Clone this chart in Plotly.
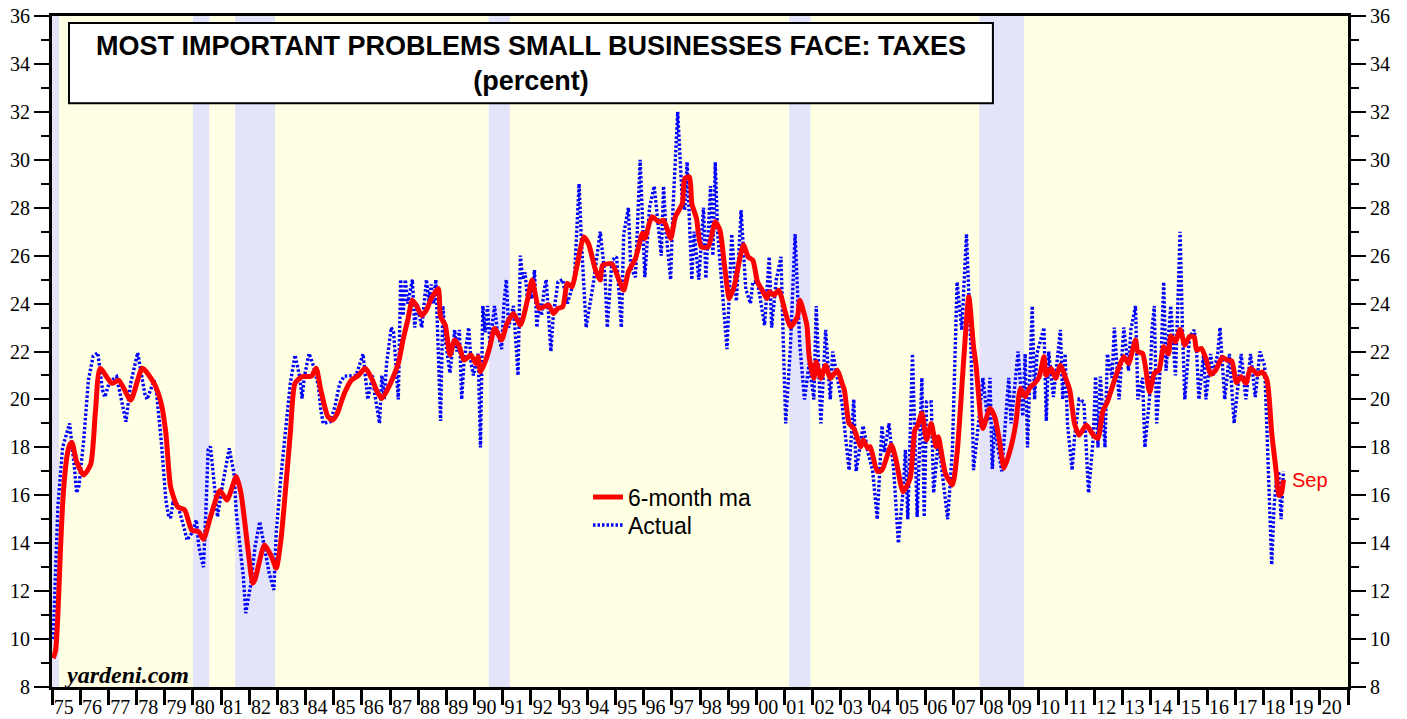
import plotly.graph_objects as go

# 6-month moving average
ma_dates = [
    "1975-01", "1975-02", "1975-03", "1975-04", "1975-05", "1975-06", "1975-07", "1975-08", "1975-09", "1975-11",
    "1976-02", "1976-05", "1976-07", "1976-09", "1977-02", "1977-05", "1977-10", "1978-03", "1978-08", "1978-11",
    "1979-01", "1979-03", "1979-06", "1979-09", "1979-12", "1980-03", "1980-05", "1980-08", "1980-12", "1981-03",
    "1981-07", "1981-09", "1981-12", "1982-02", "1982-03", "1982-07", "1982-10", "1982-12", "1983-02", "1983-06",
    "1983-08", "1983-11", "1984-03", "1984-05", "1984-07", "1984-10", "1984-12", "1985-02", "1985-05", "1985-08",
    "1985-11", "1986-02", "1986-05", "1986-07", "1986-09", "1986-12", "1987-04", "1987-06", "1987-08", "1987-10",
    "1987-12", "1988-02", "1988-04", "1988-06", "1988-09", "1988-10", "1988-12", "1989-02", "1989-04", "1989-06",
    "1989-08", "1989-11", "1990-01", "1990-02", "1990-03", "1990-05", "1990-07", "1990-09", "1990-12", "1991-02",
    "1991-03", "1991-05", "1991-08", "1991-11", "1992-01", "1992-04", "1992-08", "1992-10", "1992-12", "1993-02",
    "1993-04", "1993-06", "1993-08", "1993-11", "1994-01", "1994-04", "1994-06", "1994-07", "1994-11", "1995-02",
    "1995-04", "1995-06", "1995-09", "1995-12", "1996-01", "1996-04", "1996-07", "1996-09", "1996-12", "1997-02",
    "1997-05", "1997-06", "1997-08", "1997-09", "1997-11", "1998-01", "1998-04", "1998-07", "1998-09", "1998-11",
    "1999-01", "1999-03", "1999-07", "1999-09", "1999-11", "2000-01", "2000-03", "2000-05", "2000-06", "2000-08",
    "2000-10", "2001-01", "2001-03", "2001-06", "2001-07", "2001-10", "2001-11", "2002-01", "2002-02", "2002-04",
    "2002-06", "2002-08", "2002-11", "2003-01", "2003-02", "2003-04", "2003-06", "2003-09", "2003-10", "2003-12",
    "2004-01", "2004-04", "2004-06", "2004-10", "2004-12", "2005-03", "2005-06", "2005-08", "2005-09", "2005-11",
    "2006-01", "2006-03", "2006-05", "2006-06", "2006-09", "2006-12", "2007-02", "2007-05", "2007-07", "2007-09",
    "2007-10", "2007-12", "2008-01", "2008-04", "2008-06", "2008-08", "2008-10", "2009-01", "2009-03", "2009-05",
    "2009-07", "2009-09", "2009-11", "2010-01", "2010-03", "2010-04", "2010-06", "2010-08", "2010-10", "2010-12",
    "2011-02", "2011-04", "2011-06", "2011-09", "2011-12", "2012-02", "2012-04", "2012-06", "2012-09", "2012-11",
    "2013-01", "2013-03", "2013-06", "2013-07", "2013-09", "2013-12", "2014-02", "2014-04", "2014-06", "2014-08",
    "2014-09", "2014-11", "2015-01", "2015-03", "2015-05", "2015-07", "2015-08", "2015-10", "2015-12", "2016-02",
    "2016-04", "2016-07", "2016-09", "2016-11", "2017-01", "2017-03", "2017-05", "2017-07", "2017-10", "2017-12",
    "2018-02", "2018-03", "2018-04", "2018-05", "2018-06", "2018-07", "2018-08", "2018-09",
]
ma_vals = [
    9.2, 9.5, 11.0, 13.5, 15.6, 16.9, 17.7, 18.1, 18.2, 17.4,
    16.85, 17.3, 19.5, 21.3, 20.67, 20.8, 19.97, 21.3, 20.67, 19.84,
    18.6, 16.36, 15.52, 15.39, 14.55, 14.48, 14.17, 15.1, 16.2, 15.8,
    16.78, 16.08, 13.72, 12.33, 12.5, 13.93, 13.44, 12.96, 14.13, 18.59,
    20.67, 20.95, 20.97, 21.3, 20.39, 19.28, 19.14, 19.42, 20.25, 20.8,
    21.0, 21.3, 20.8, 20.32, 20.04, 20.53, 21.5, 22.48, 23.3, 24.14,
    23.86, 23.5, 23.73, 24.2, 24.63, 23.45, 23.1, 21.85, 22.48, 22.2,
    21.64, 21.85, 21.5, 21.78, 21.15, 21.57, 22.2, 22.96, 22.48, 23.1,
    23.3, 23.59, 23.1, 24.14, 24.98, 23.8, 23.94, 23.59, 23.8, 23.86,
    24.84, 24.7, 25.53, 26.78, 26.5, 25.4, 24.98, 25.6, 25.65, 24.98,
    24.56, 25.32, 25.88, 26.93, 26.72, 27.62, 27.41, 27.48, 26.72, 27.62,
    28.18, 29.22, 29.29, 28.18, 27.55, 26.37, 26.37, 27.41, 27.06, 25.53,
    24.21, 24.7, 26.44, 25.95, 25.81, 24.9, 24.56, 24.21, 24.49, 24.35,
    24.56, 23.59, 23.03, 23.45, 24.14, 23.1, 21.78, 20.88, 21.57, 20.88,
    21.43, 20.88, 21.22, 20.67, 20.39, 19.0, 18.79, 18.03, 18.31, 17.96,
    18.03, 17.0, 17.05, 18.1, 17.47, 16.15, 16.71, 18.72, 18.86, 19.42,
    18.31, 19.0, 18.03, 18.44, 16.92, 16.43, 17.75, 21.92, 24.28, 22.2,
    21.5, 19.28, 18.79, 19.63, 19.28, 18.31, 17.13, 18.03, 19.0, 20.46,
    20.11, 20.5, 20.67, 20.95, 21.78, 21.0, 21.3, 20.88, 21.43, 20.95,
    20.39, 19.0, 18.51, 18.93, 18.51, 18.38, 19.49, 19.9, 20.8, 21.36,
    21.78, 21.5, 22.48, 21.99, 21.92, 20.3, 21.09, 21.22, 22.2, 21.9,
    22.65, 22.4, 22.92, 22.27, 22.63, 22.61, 22.06, 22.13, 21.7, 21.05,
    21.2, 21.75, 21.64, 21.6, 20.7, 20.95, 20.67, 21.3, 21.05, 21.15,
    20.81, 19.97, 18.6, 17.75, 16.9, 16.0, 16.05, 16.65,
]

# Actual survey readings (turning points)
act_dates = [
    "1975-01", "1975-02", "1975-03", "1975-05", "1975-07", "1975-08", "1975-10", "1975-11", "1975-12", "1976-02",
    "1976-04", "1976-06", "1976-08", "1976-10", "1976-11", "1977-01", "1977-04", "1977-06", "1977-08", "1977-10",
    "1977-12", "1978-01", "1978-04", "1978-05", "1978-08", "1978-09", "1978-11", "1978-12", "1979-01", "1979-02",
    "1979-03", "1979-04", "1979-06", "1979-09", "1979-10", "1979-12", "1980-02", "1980-03", "1980-05", "1980-06",
    "1980-07", "1980-08", "1980-10", "1980-11", "1981-01", "1981-03", "1981-04", "1981-06", "1981-07", "1981-10",
    "1981-11", "1982-01", "1982-03", "1982-05", "1982-07", "1982-09", "1982-11", "1982-12", "1983-02", "1983-04",
    "1983-06", "1983-08", "1983-10", "1983-11", "1983-12", "1984-02", "1984-04", "1984-06", "1984-07", "1984-08",
    "1984-11", "1985-01", "1985-03", "1985-05", "1985-10", "1986-01", "1986-03", "1986-05", "1986-06", "1986-08",
    "1986-09", "1986-10", "1986-11", "1987-01", "1987-02", "1987-04", "1987-05", "1987-06", "1987-07", "1987-08",
    "1987-10", "1987-11", "1987-12", "1988-02", "1988-04", "1988-05", "1988-06", "1988-07", "1988-08", "1988-10",
    "1988-11", "1988-12", "1989-02", "1989-04", "1989-05", "1989-06", "1989-07", "1989-08", "1989-10", "1989-11",
    "1989-12", "1990-01", "1990-02", "1990-03", "1990-04", "1990-05", "1990-06", "1990-07", "1990-08", "1990-09",
    "1990-10", "1990-12", "1991-01", "1991-02", "1991-03", "1991-05", "1991-06", "1991-07", "1991-08", "1991-09",
    "1991-10", "1991-11", "1991-12", "1992-01", "1992-02", "1992-03", "1992-04", "1992-05", "1992-06", "1992-07",
    "1992-08", "1992-09", "1992-10", "1992-12", "1993-02", "1993-04", "1993-07", "1993-09", "1993-10", "1993-12",
    "1994-03", "1994-06", "1994-08", "1994-09", "1994-11", "1995-01", "1995-03", "1995-04", "1995-06", "1995-07",
    "1995-09", "1995-11", "1996-01", "1996-03", "1996-05", "1996-06", "1996-08", "1996-09", "1996-10", "1996-12",
    "1997-01", "1997-03", "1997-05", "1997-06", "1997-07", "1997-09", "1997-10", "1997-12", "1998-02", "1998-03",
    "1998-05", "1998-06", "1998-07", "1998-08", "1998-10", "1998-12", "1999-02", "1999-04", "1999-06", "1999-08",
    "1999-10", "1999-11", "2000-01", "2000-04", "2000-06", "2000-07", "2000-09", "2000-11", "2000-12", "2001-01",
    "2001-03", "2001-05", "2001-07", "2001-09", "2001-11", "2002-01", "2002-02", "2002-04", "2002-06", "2002-08",
    "2002-09", "2002-11", "2003-01", "2003-04", "2003-06", "2003-07", "2003-10", "2003-12", "2004-02", "2004-04",
    "2004-06", "2004-07", "2004-09", "2004-11", "2005-01", "2005-03", "2005-04", "2005-05", "2005-07", "2005-09",
    "2005-11", "2005-12", "2006-01", "2006-03", "2006-04", "2006-06", "2006-08", "2006-10", "2006-12", "2007-01",
    "2007-02", "2007-04", "2007-06", "2007-08", "2007-09", "2007-11", "2008-01", "2008-03", "2008-04", "2008-05",
    "2008-06", "2008-09", "2008-12", "2009-01", "2009-04", "2009-06", "2009-07", "2009-08", "2009-10", "2009-11",
    "2009-12", "2010-03", "2010-04", "2010-05", "2010-07", "2010-10", "2010-11", "2010-12", "2011-01", "2011-03",
    "2011-04", "2011-06", "2011-08", "2011-10", "2011-12", "2012-01", "2012-02", "2012-03", "2012-05", "2012-06",
    "2012-08", "2012-09", "2012-11", "2013-01", "2013-03", "2013-04", "2013-06", "2013-07", "2013-09", "2013-10",
    "2013-12", "2014-01", "2014-02", "2014-03", "2014-05", "2014-06", "2014-07", "2014-09", "2014-11", "2014-12",
    "2015-01", "2015-02", "2015-03", "2015-05", "2015-07", "2015-08", "2015-09", "2015-11", "2015-12", "2016-02",
    "2016-03", "2016-05", "2016-06", "2016-08", "2016-10", "2016-12", "2017-03", "2017-05", "2017-07", "2017-09",
    "2017-11", "2018-01", "2018-02", "2018-04", "2018-05", "2018-06", "2018-07", "2018-08", "2018-09",
]
act_vals = [
    10.0, 12.5, 15.5, 18.0, 18.6, 19.0, 17.2, 16.1, 16.4, 18.3,
    20.8, 21.8, 21.95, 20.4, 20.1, 20.74, 20.95, 19.97, 19.07, 20.67,
    21.5, 21.95, 20.25, 20.0, 20.8, 20.3, 18.3, 17.0, 15.8, 15.2,
    15.05, 15.67, 15.6, 14.55, 14.13, 14.42, 14.97, 13.86, 13.0, 15.25,
    17.9, 18.03, 16.08, 15.1, 16.36, 17.33, 17.96, 16.92, 15.25, 12.6,
    11.08, 12.19, 13.86, 14.9, 13.72, 12.75, 12.05, 14.42, 16.78, 18.86,
    20.67, 21.85, 20.95, 20.04, 20.95, 21.92, 21.36, 20.53, 19.56, 19.0,
    19.07, 19.7, 20.67, 20.97, 21.0, 21.9, 20.0, 21.0, 20.2, 19.0,
    21.0, 20.0, 21.5, 23.0, 22.8, 20.0, 25.0, 23.5, 25.0, 24.0,
    25.0, 23.0, 24.0, 23.0, 25.0, 24.1, 24.8, 24.0, 25.0, 19.1,
    23.9, 22.5, 21.1, 22.9, 22.0, 22.9, 20.0, 21.6, 23.0, 21.5,
    21.0, 21.5, 21.9, 18.0, 23.9, 22.8, 23.9, 22.3, 23.0, 23.9,
    23.0, 22.1, 24.0, 25.0, 23.0, 23.9, 22.5, 21.0, 26.0, 25.0,
    25.3, 24.2, 24.5, 24.2, 25.4, 23.0, 24.0, 23.5, 24.5, 25.0,
    23.5, 22.0, 23.5, 24.9, 25.0, 24.0, 25.0, 29.0, 26.6, 23.0,
    24.8, 27.0, 25.2, 23.0, 25.8, 25.95, 23.0, 26.9, 28.0, 25.5,
    25.1, 30.0, 25.1, 28.0, 28.9, 27.9, 26.0, 28.9, 27.0, 25.0,
    28.0, 32.0, 28.2, 27.9, 29.9, 25.0, 27.0, 25.0, 28.0, 25.05,
    28.9, 26.0, 29.9, 27.0, 24.6, 22.1, 26.9, 24.1, 27.9, 24.6,
    24.0, 24.9, 24.9, 23.1, 25.95, 23.0, 25.0, 25.95, 22.3, 19.0,
    22.2, 26.9, 22.3, 20.0, 21.5, 20.0, 23.9, 19.0, 22.9, 20.0,
    22.0, 20.8, 19.8, 17.05, 20.0, 17.0, 18.9, 17.8, 17.05, 15.0,
    18.9, 17.8, 19.0, 17.05, 14.0, 16.2, 17.9, 15.0, 21.9, 15.1,
    20.9, 15.1, 19.9, 19.9, 16.1, 18.3, 16.6, 15.0, 17.9, 21.6,
    24.9, 22.9, 26.9, 21.9, 17.05, 18.9, 20.9, 19.1, 20.9, 17.1,
    18.9, 17.0, 20.9, 19.0, 22.0, 19.3, 21.9, 18.0, 23.9, 20.0,
    21.9, 23.0, 19.1, 22.0, 20.1, 22.9, 20.0, 21.9, 19.0, 17.05,
    18.4, 20.0, 19.9, 16.1, 18.4, 20.95, 18.0, 20.95, 18.0, 21.9,
    20.9, 23.0, 20.0, 23.0, 21.2, 22.9, 23.9, 20.0, 20.9, 18.0,
    20.1, 22.9, 23.9, 19.0, 22.0, 24.9, 21.2, 23.9, 21.0, 23.9,
    27.0, 22.9, 20.0, 22.6, 22.9, 22.0, 20.0, 21.9, 20.0, 21.9,
    21.0, 21.9, 23.0, 20.0, 21.9, 19.0, 21.9, 20.0, 21.9, 20.1,
    22.0, 21.4, 18.6, 13.1, 15.5, 16.6, 17.0, 15.0, 17.0,
]

# NBER recessions (shaded)
rec_start = ["1973-11", "1980-01", "1981-07", "1990-07", "2001-03", "2007-12"]
rec_end = ["1975-03", "1980-07", "1982-11", "1991-03", "2001-11", "2009-06"]

years = list(range(1975, 2021))
year_labels = [str(y)[-2:] for y in years]


def mid_month(s):
    y, m = s.split("-")
    return int(y) + (int(m) - 0.5) / 12


def month_start(s):
    y, m = s.split("-")
    return int(y) + (int(m) - 1) / 12


def month_end(s):
    y, m = s.split("-")
    return int(y) + int(m) / 12


ma_x = [mid_month(d) for d in ma_dates]
act_x = [mid_month(d) for d in act_dates]

fig = go.Figure()

fig.add_trace(go.Scatter(
    x=act_x, y=act_vals, mode="lines", name="Actual", legend="legend2",
    line=dict(color="#0000FF", width=3.4, dash="2.5px,2px"),
))
# MA on the overlaying right axis so it sits on top and the right axis gets drawn
fig.add_trace(go.Scatter(
    x=ma_x, y=ma_vals, mode="lines", name="6-month ma", yaxis="y2", legend="legend",
    line=dict(color="#FF0000", width=5, shape="spline", smoothing=0.6),
))

shapes = []
for s, e in zip(rec_start, rec_end):
    shapes.append(dict(
        type="rect", xref="x", yref="paper",
        x0=max(month_start(s), 1975), x1=month_end(e), y0=0, y1=1,
        fillcolor="#E3E3FA", line=dict(width=0), layer="below",
    ))

# title box
shapes.append(dict(
    type="rect", xref="paper", yref="paper",
    x0=0.0131, x1=0.726, y0=0.870, y1=0.9896,
    fillcolor="white", line=dict(color="black", width=2), layer="above",
))

annotations = [
    dict(text="<b>MOST IMPORTANT PROBLEMS SMALL BUSINESSES FACE: TAXES<br>(percent)</b>",
         xref="paper", yref="paper", x=0.3696, y=0.929, yanchor="middle", showarrow=False,
         font=dict(family="Liberation Sans, Arial", size=27, color="black")),
    dict(text="<b><i>yardeni.com</i></b>",
         xref="paper", yref="paper", x=0.008, y=0.018, xanchor="left", yanchor="middle",
         showarrow=False,
         font=dict(family="Liberation Serif, Times New Roman", size=24, color="black")),
    dict(text="Sep", x=ma_x[-1], y=ma_vals[-1], xref="x", yref="y",
         xanchor="left", yanchor="middle", xshift=7, showarrow=False,
         font=dict(family="Liberation Sans, Arial", size=20, color="#FF0000")),
]

tick_font = dict(family="Liberation Serif, Times New Roman", size=20, color="black")

yaxis_common = dict(
    range=[8, 36], tick0=8, dtick=2, ticks="outside", ticklen=15, tickwidth=2,
    tickcolor="black", showgrid=False, zeroline=False, showline=True,
    linecolor="black", linewidth=3, tickfont=tick_font, automargin=False,
    ticklabeloverflow="allow",
    minor=dict(dtick=1, ticks="outside", ticklen=8, tickwidth=2, tickcolor="black", showgrid=False),
)

legend_common = dict(
    xanchor="left", yanchor="middle", bgcolor="rgba(0,0,0,0)", borderwidth=0,
    font=dict(family="Liberation Sans, Arial", size=23, color="black"),
)

fig.update_layout(
    width=1407, height=719,
    margin=dict(l=52, r=59, t=16, b=32),
    paper_bgcolor="white",
    plot_bgcolor="#FFFFE4",
    shapes=shapes,
    annotations=annotations,
    xaxis=dict(
        range=[1975, 2021], tickmode="array",
        tickvals=[y + 0.42 for y in years], ticktext=year_labels,
        ticks="outside", ticklen=0, tickcolor="rgba(0,0,0,0)",
        showgrid=False, zeroline=False, showline=True, linecolor="black",
        linewidth=3, mirror=True, tickfont=tick_font, automargin=False,
        ticklabeloverflow="allow",
        minor=dict(tickmode="array", tickvals=list(range(1975, 2022)), ticks="outside",
                   ticklen=15, tickwidth=2.5, tickcolor="black", showgrid=False),
    ),
    yaxis=dict(**yaxis_common),
    yaxis2=dict(**yaxis_common, overlaying="y", side="right", anchor="x"),
    legend=dict(x=0.4136, y=0.2832, **legend_common),
    legend2=dict(x=0.4136, y=0.2414, **legend_common),
    showlegend=True,
)

# drop the default 8px page margin so the figure fills the window exactly
fig.write_html("out.html", config={"displayModeBar": False},
               post_script="document.body.style.margin='0px';")
